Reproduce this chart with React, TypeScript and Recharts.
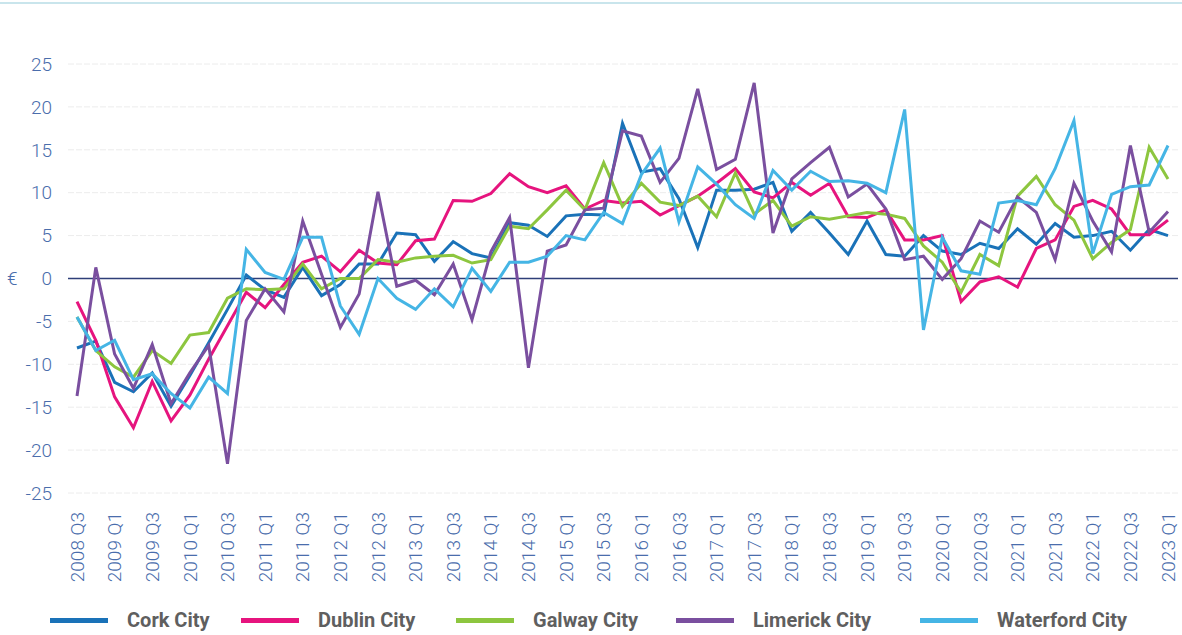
import {
  LineChart,
  Line,
  XAxis,
  YAxis,
  CartesianGrid,
  ReferenceLine,
  Legend,
} from "recharts";

const quarters = [
  "2008 Q3", "2008 Q4",
  "2009 Q1", "2009 Q2", "2009 Q3", "2009 Q4",
  "2010 Q1", "2010 Q2", "2010 Q3", "2010 Q4",
  "2011 Q1", "2011 Q2", "2011 Q3", "2011 Q4",
  "2012 Q1", "2012 Q2", "2012 Q3", "2012 Q4",
  "2013 Q1", "2013 Q2", "2013 Q3", "2013 Q4",
  "2014 Q1", "2014 Q2", "2014 Q3", "2014 Q4",
  "2015 Q1", "2015 Q2", "2015 Q3", "2015 Q4",
  "2016 Q1", "2016 Q2", "2016 Q3", "2016 Q4",
  "2017 Q1", "2017 Q2", "2017 Q3", "2017 Q4",
  "2018 Q1", "2018 Q2", "2018 Q3", "2018 Q4",
  "2019 Q1", "2019 Q2", "2019 Q3", "2019 Q4",
  "2020 Q1", "2020 Q2", "2020 Q3", "2020 Q4",
  "2021 Q1", "2021 Q2", "2021 Q3", "2021 Q4",
  "2022 Q1", "2022 Q2", "2022 Q3", "2022 Q4",
  "2023 Q1",
];

const cork = [
  -8.1, -7.3, -12.1, -13.2, -11.0, -14.9, -11.3, -7.5, -3.6, 0.4,
  -1.3, -2.2, 1.3, -2.0, -0.7, 1.7, 1.7, 5.3, 5.1, 2.0,
  4.3, 2.9, 2.4, 6.5, 6.2, 4.9, 7.3, 7.5, 7.4, 18.1,
  12.4, 12.8, 9.3, 3.6, 10.3, 10.3, 10.4, 11.2, 5.5, 7.7,
  5.3, 2.8, 6.7, 2.8, 2.6, 5.0, 3.2, 2.8, 4.1, 3.5,
  5.8, 4.0, 6.4, 4.8, 5.0, 5.5, 3.3, 5.7, 5.0,
];

const dublin = [
  -2.7, -7.2, -13.8, -17.4, -12.0, -16.6, -13.6, -9.4, -5.5, -1.6,
  -3.4, -0.7, 1.9, 2.6, 0.8, 3.3, 1.8, 1.6, 4.4, 4.6,
  9.1, 9.0, 9.9, 12.2, 10.7, 10.0, 10.8, 8.1, 9.1, 8.8,
  9.0, 7.4, 8.5, 9.6, 11.1, 12.8, 10.1, 9.4, 11.2, 9.7,
  11.1, 7.2, 7.1, 8.0, 4.5, 4.5, 5.0, -2.7, -0.4, 0.2,
  -1.0, 3.5, 4.5, 8.4, 9.1, 8.1, 5.1, 5.1, 6.8,
];

const galway = [
  -4.5, -8.4, -10.3, -11.5, -8.4, -9.9, -6.6, -6.3, -2.3, -1.2,
  -1.3, -1.2, 1.7, -1.2, 0.0, 0.0, 2.2, 1.9, 2.4, 2.6,
  2.7, 1.8, 2.2, 6.1, 5.8, 8.0, 10.3, 8.0, 13.5, 8.4,
  11.1, 8.9, 8.5, 9.6, 7.2, 12.3, 7.5, 9.1, 6.1, 7.2,
  6.9, 7.3, 7.7, 7.5, 7.0, 3.8, 1.9, -1.6, 2.8, 1.5,
  9.6, 11.9, 8.6, 6.8, 2.3, 4.2, 5.7, 15.3, 11.6,
];

const limerick = [
  -13.7, 1.3, -8.8, -12.8, -7.7, -14.6, -11.0, -7.8, -21.6, -4.9,
  -1.2, -3.9, 6.7, 0.5, -5.7, -1.8, 10.1, -0.9, -0.2, -1.9,
  1.7, -4.8, 3.1, 7.1, -10.4, 3.2, 3.9, 8.0, 8.2, 17.2,
  16.6, 11.2, 14.0, 22.1, 12.7, 13.9, 22.8, 5.3, 11.6, 13.5,
  15.3, 9.5, 11.0, 8.1, 2.2, 2.6, -0.1, 2.3, 6.7, 5.4,
  9.5, 7.7, 2.2, 11.1, 6.7, 3.1, 15.5, 5.4, 7.8,
];

const waterford = [
  -4.5, -8.4, -7.2, -11.8, -11.1, -13.4, -15.1, -11.5, -13.4, 3.4,
  0.7, -0.1, 4.8, 4.8, -3.2, -6.5, 0.0, -2.3, -3.6, -1.2,
  -3.3, 1.2, -1.5, 1.9, 1.9, 2.6, 5.0, 4.5, 7.7, 6.4,
  12.1, 15.2, 6.6, 13.0, 11.0, 8.6, 7.0, 12.6, 10.3, 12.5,
  11.3, 11.4, 11.1, 10.0, 19.7, -6.0, 4.8, 0.9, 0.5, 8.8,
  9.1, 8.6, 12.8, 18.4, 2.9, 9.8, 10.7, 10.9, 15.5,
];

const yTicks = [-25, -20, -15, -10, -5, 0, 5, 10, 15, 20, 25];

const series = [
  { key: "cork", name: "Cork City", color: "#1a72b8" },
  { key: "dublin", name: "Dublin City", color: "#e6147e" },
  { key: "galway", name: "Galway City", color: "#8dc63f" },
  { key: "limerick", name: "Limerick City", color: "#7a4f9f" },
  { key: "waterford", name: "Waterford City", color: "#45b5e5" },
];

const data = quarters.map((q, i) => ({
  quarter: q,
  cork: cork[i],
  dublin: dublin[i],
  galway: galway[i],
  limerick: limerick[i],
  waterford: waterford[i],
}));

const AXIS_BLUE = "#4a6dac";
const FONT = "Roboto, 'Noto Sans', sans-serif";
// width of each legend slot, line start to next line start
const legendSlots = [191, 215, 220, 244, 220];

function QuarterTick(props: any) {
  const { x, y, payload } = props;
  const ty = y + 19;
  return (
    <text
      x={x}
      y={ty}
      transform={`rotate(-90 ${x} ${ty})`}
      textAnchor="end"
      dy="0.35em"
      fill={AXIS_BLUE}
      fontSize={19}
      fontWeight={300}
      fontFamily={FONT}
    >
      {payload.value}
    </text>
  );
}

function CityLegend() {
  return (
    <div
      style={{
        height: 40,
        paddingTop: 10,
        paddingLeft: 50,
        boxSizing: "border-box",
        display: "flex",
        alignItems: "center",
        fontFamily: FONT,
      }}
    >
      {series.map((s, i) => (
        <div key={s.key} style={{ display: "flex", alignItems: "center", width: legendSlots[i] }}>
          <div style={{ width: 58, height: 5, background: s.color, marginRight: 19 }} />
          <span style={{ fontSize: 20, fontWeight: 700, color: "#5f5f5f", lineHeight: "30px", whiteSpace: "nowrap" }}>
            {s.name}
          </span>
        </div>
      ))}
    </div>
  );
}

export default function App() {
  return (
    <div style={{ position: "absolute", left: 0, top: 0, width: 1182, height: 635, background: "#fff" }}>
      <div style={{ position: "absolute", left: 0, top: 2, width: 1182, height: 2, background: "#c9e5ec" }} />
      <LineChart
        width={1182}
        height={635}
        data={data}
        margin={{ top: 64, right: 4, bottom: 0, left: 0 }}
      >
        <CartesianGrid vertical={false} stroke="#ececec" strokeDasharray="6 2" />
        <XAxis
          dataKey="quarter"
          interval={1}
          axisLine={false}
          tickLine={false}
          tickSize={0}
          tickMargin={0}
          height={102}
          padding={{ left: 9, right: 10 }}
          tick={<QuarterTick />}
        />
        <YAxis
          domain={[-25, 25]}
          ticks={yTicks}
          width={68}
          axisLine={false}
          tickLine={false}
          tickSize={0}
          tickMargin={16}
          tick={{ fill: AXIS_BLUE, fontSize: 19, fontWeight: 300, fontFamily: FONT }}
          label={{ value: "€", position: "insideLeft", offset: 7, fill: AXIS_BLUE, fontSize: 19, fontWeight: 300, fontFamily: FONT }}
        />
        <ReferenceLine y={0} stroke="#2e3f78" strokeWidth={1.5} />
        <Legend verticalAlign="bottom" content={<CityLegend />} />
        {series.map((s) => (
          <Line
            key={s.key}
            type="linear"
            dataKey={s.key}
            name={s.name}
            stroke={s.color}
            strokeWidth={3}
            dot={false}
            activeDot={false}
            isAnimationActive={false}
          />
        ))}
      </LineChart>
    </div>
  );
}
